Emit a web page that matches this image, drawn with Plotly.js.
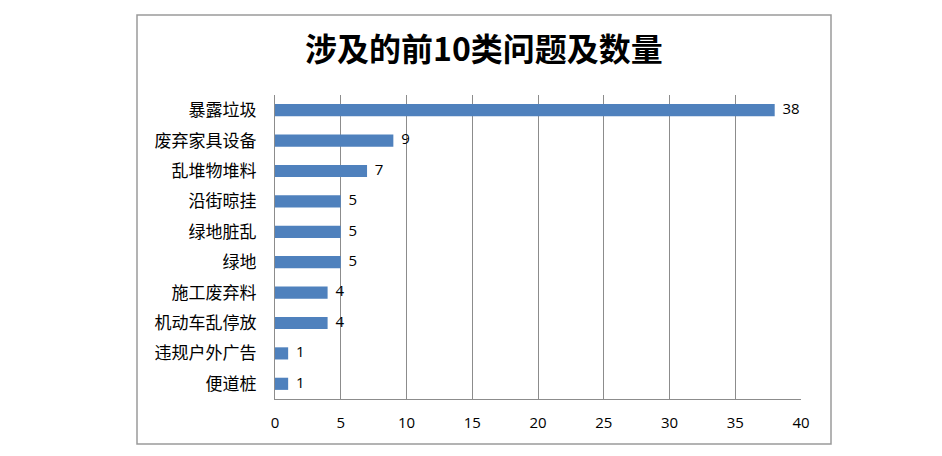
<!DOCTYPE html>
<html>
<head>
<meta charset="utf-8">
<script src="https://cdn.plot.ly/plotly-3.0.1.min.js"></script>
<style>html,body{margin:0;padding:0;background:#fff;}#chart{width:942px;height:456px;}</style>
</head>
<body>
<div id="chart"></div>
<script>
const categories = ["暴露垃圾","废弃家具设备","乱堆物堆料","沿街晾挂","绿地脏乱","绿地","施工废弃料","机动车乱停放","违规户外广告","便道桩"];
const counts = [38, 9, 7, 5, 5, 5, 4, 4, 1, 1];
const xTicks = [0, 5, 10, 15, 20, 25, 30, 35, 40];
const chartTitle = "涉及的前10类问题及数量";

const bars = {
  type: 'bar',
  orientation: 'h',
  x: counts,
  y: categories,
  marker: {color: '#4F81BD'},
  hoverinfo: 'none'
};

const labels = {
  type: 'scatter',
  mode: 'text',
  x: counts,
  y: categories,
  text: counts.map(v => '\u00a0\u00a0' + v),
  textposition: 'middle right',
  textfont: {family: 'Open Sans, Liberation Sans, sans-serif', size: 15, color: '#000'},
  cliponaxis: false,
  hoverinfo: 'none'
};

const layout = {
  width: 942, height: 456,
  margin: {l: 275, r: 141, t: 95, b: 57},
  paper_bgcolor: '#fff', plot_bgcolor: '#fff',
  showlegend: false,
  bargap: 0.6,
  title: {
    text: '<b>' + chartTitle + '</b>',
    x: 484/942, xanchor: 'center', y: 1 - 50/456, yanchor: 'middle',
    font: {family: 'Noto Sans CJK SC, sans-serif', size: 32, color: '#000'}
  },
  xaxis: {
    range: [0, 40],
    tickvals: xTicks,
    ticktext: xTicks.map(String),
    showgrid: true, gridcolor: '#8c8c8c', gridwidth: 1,
    showline: true, linecolor: '#8c8c8c', linewidth: 1,
    zeroline: false,
    ticks: '',
    ticklabelstandoff: 10,
    tickfont: {family: 'Open Sans, Liberation Sans, sans-serif', size: 15, color: '#000'}
  },
  yaxis: {
    autorange: 'reversed',
    showgrid: false,
    showline: true, linecolor: '#8c8c8c', linewidth: 1,
    ticks: '',
    ticklabelstandoff: 14,
    tickfont: {family: 'Noto Sans CJK SC, sans-serif', size: 17, color: '#000'}
  },
  shapes: [{
    type: 'rect', xref: 'paper', yref: 'paper',
    x0: (137-275)/526, x1: (831-275)/526,
    y0: (399-444)/304, y1: (399-15)/304,
    line: {color: '#9a9a9a', width: 1.5},
    fillcolor: 'rgba(0,0,0,0)', layer: 'below'
  }]
};

Plotly.newPlot('chart', [bars, labels], layout, {displayModeBar: false, staticPlot: true});
</script>
</body>
</html>
